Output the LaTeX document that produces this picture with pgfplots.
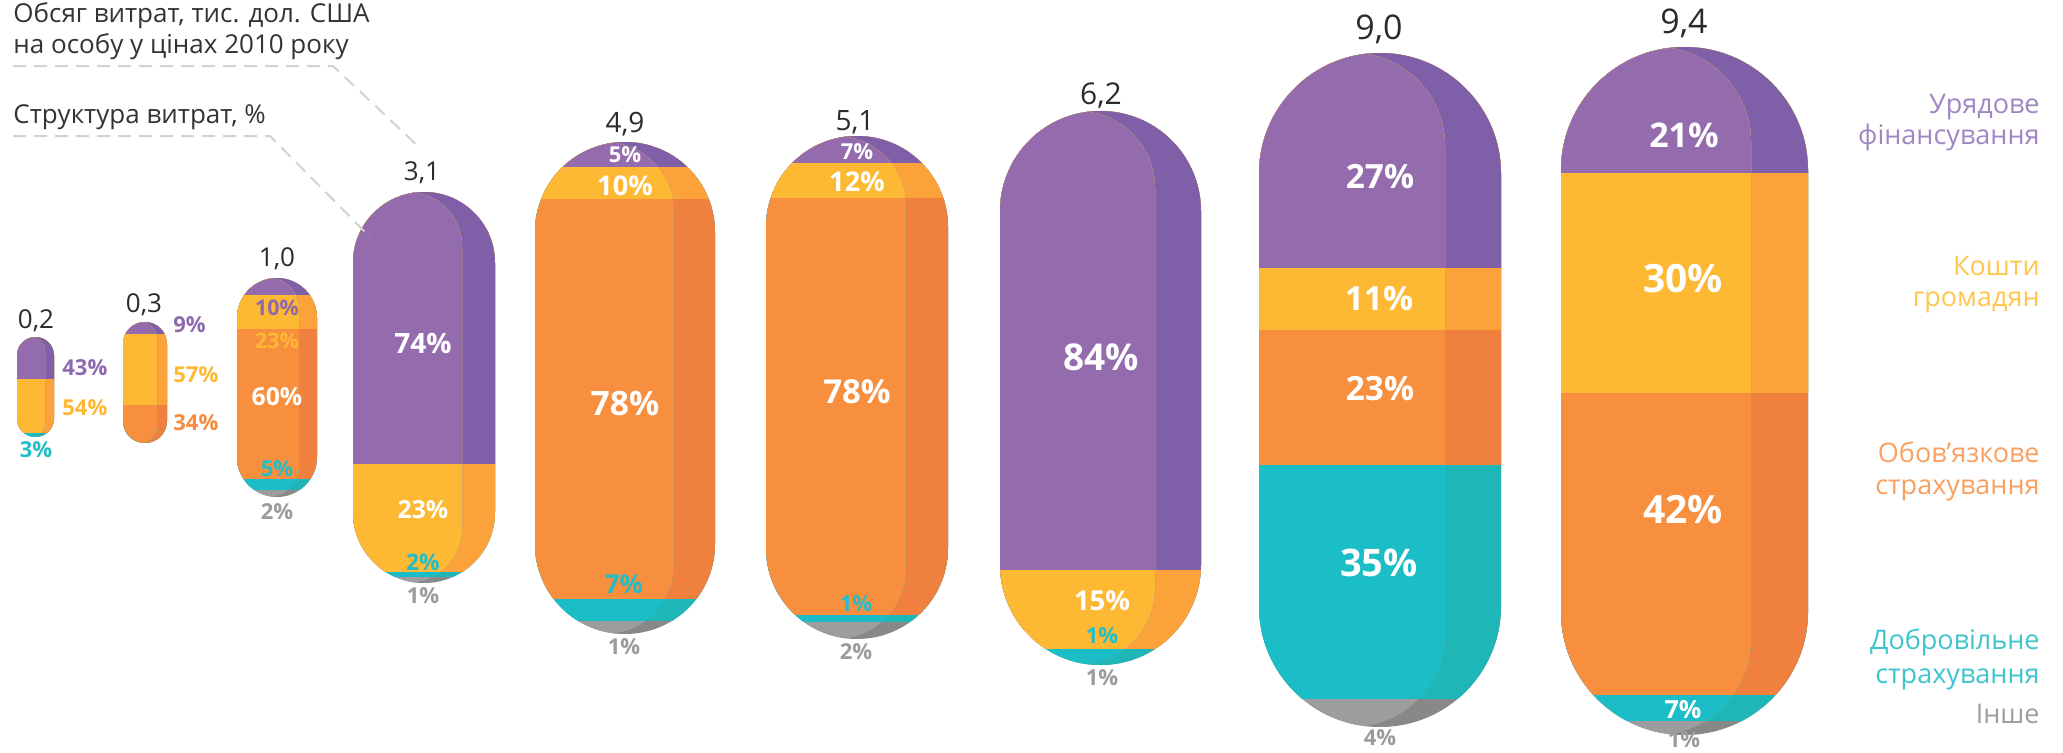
\documentclass[border=0pt]{standalone}
\usepackage{pgfplots}
\pgfplotsset{compat=1.18}
\usepackage{fontspec}
\setmainfont{Open Sans}

\definecolor{pL}{HTML}{946BAD}\definecolor{pD}{HTML}{7F60A8}
\definecolor{yL}{HTML}{FDB933}\definecolor{yD}{HTML}{FBA23A}
\definecolor{oL}{HTML}{F78F3F}\definecolor{oD}{HTML}{F0803E}
\definecolor{tL}{HTML}{1BBDC6}\definecolor{tD}{HTML}{1EB6B6}
\definecolor{gL}{HTML}{9D9D9D}\definecolor{gD}{HTML}{888888}
\definecolor{pT}{HTML}{8E69AD}\definecolor{yT}{HTML}{FDB933}
\definecolor{oT}{HTML}{F58B3E}\definecolor{tT}{HTML}{22BEC8}
\definecolor{gT}{HTML}{9B9B9B}\definecolor{vT}{HTML}{2B2B2B}
\definecolor{lgP}{HTML}{A086C2}\definecolor{lgY}{HTML}{FFC64C}
\definecolor{lgO}{HTML}{F9A060}\definecolor{lgT}{HTML}{3DC4CD}
\definecolor{lgG}{HTML}{9E9E9E}\definecolor{dashC}{HTML}{D2D2D2}

\pgfplotsset{pb/.style={ybar, bar width=600, bar shift=0pt, draw=none, fill=#1}}
\tikzset{
  pct/.style={font=\bfseries\fontsize{#1}{#1}\selectfont, inner sep=0pt},
  val/.style={font=\fontsize{#1}{#1}\selectfont, inner sep=0pt, text=vT},
  lg/.style={font=\fontsize{13.5}{14}\selectfont, inner sep=0pt, anchor=base east},
  tl/.style={font=\fontsize{13}{14}\selectfont, inner sep=0pt, anchor=base west, text=black!80},
}

% #1 left, #2 right, #3 right edge of lighter part, #4 top, #5 bottom,
% #6 bottom of government, #7 households, #8 compulsory, #9 voluntary
\newcommand{\pill}[9]{%
  \begin{scope}
    \clip[rounded corners=(#2-#1)*0.2495pt] (axis cs:#1,#4) rectangle (axis cs:#2,#5);
    \addplot[pb=gD] coordinates {(#1,#5)};
    \addplot[pb=tD] coordinates {(#1,#9)};
    \addplot[pb=oD] coordinates {(#1,#8)};
    \addplot[pb=yD] coordinates {(#1,#7)};
    \addplot[pb=pD] coordinates {(#1,#6)};
    \begin{scope}
      \clip[rounded corners=(#3-#1)*0.2495pt] (axis cs:#1,#4) rectangle (axis cs:#3,#5);
      \addplot[pb=gL] coordinates {(#1,#5)};
      \addplot[pb=tL] coordinates {(#1,#9)};
      \addplot[pb=oL] coordinates {(#1,#8)};
      \addplot[pb=yL] coordinates {(#1,#7)};
      \addplot[pb=pL] coordinates {(#1,#6)};
    \end{scope}
  \end{scope}}

\begin{document}
\begin{tikzpicture}
\begin{axis}[width=1031.5pt, height=376pt, scale only axis,
  xmin=0, xmax=2063, ymin=0, ymax=752, y dir=reverse,
  hide axis, clip=false]
\path (axis cs:0,0) rectangle (axis cs:2063,752);

% pills: left, right, light-right, top, bottom, band bottoms
\pill{17}{54}{45}{337}{437}{379}{433}{433}{437}
\pill{123}{167}{157}{322}{443}{334}{405}{443}{443}
\pill{237}{317}{299}{278}{497}{295}{329}{479}{490}
\pill{353}{495}{462}{192}{583}{464}{572}{572}{577}
\pill{535}{715}{674}{142}{634}{167}{199}{599}{621}
\pill{766}{948}{906}{136}{639}{163}{198}{615}{622}
\pill{1000}{1201}{1155}{111}{665}{570}{649}{649}{665}
\pill{1259}{1501}{1445}{53}{727}{268}{330}{465}{699}
\pill{1561}{1808}{1751}{47}{735}{173}{393}{695}{721}

% annotation lines
\draw[dashC, line width=1pt, dash pattern=on 6.5pt off 4pt] (axis cs:13,66) -- (axis cs:333,66) -- (axis cs:420,148);
\draw[dashC, line width=1pt, dash pattern=on 6.5pt off 4pt] (axis cs:13,136) -- (axis cs:270,136) -- (axis cs:370,237);
\node[tl] at (axis cs:13,22) {Обсяг витрат, тис. дол. США};
\node[tl] at (axis cs:13,53) {на особу у цінах 2010 року};
\node[tl] at (axis cs:13,123) {Структура витрат, \%};

% totals
\node[val=13] at (axis cs:36,321) {0,2};
\node[val=13] at (axis cs:144,305) {0,3};
\node[val=13] at (axis cs:277,259) {1,0};
\node[val=13] at (axis cs:422,173) {3,1};
\node[val=14] at (axis cs:625,124) {4,9};
\node[val=14] at (axis cs:855,122) {5,1};
\node[val=15] at (axis cs:1101,96) {6,2};
\node[val=17] at (axis cs:1379,29) {9,0};
\node[val=17] at (axis cs:1684,23) {9,4};

% shares
\node[pct=11, text=pT, anchor=west] at (axis cs:62,368) {43\%};
\node[pct=11, text=yT, anchor=west] at (axis cs:62,408) {54\%};
\node[pct=11, text=tT] at (axis cs:36,450) {3\%};
\node[pct=11, text=pT, anchor=west] at (axis cs:173,325) {9\%};
\node[pct=11, text=yT, anchor=west] at (axis cs:173,375) {57\%};
\node[pct=11, text=oT, anchor=west] at (axis cs:173,423) {34\%};

\node[pct=10.7, text=pT] at (axis cs:277,308) {10\%};
\node[pct=10.7, text=yT] at (axis cs:277,341) {23\%};
\node[pct=12.4, text=white] at (axis cs:277,397) {60\%};
\node[pct=11, text=tT] at (axis cs:277,469) {5\%};
\node[pct=11, text=gT] at (axis cs:277,512) {2\%};

\node[pct=14, text=white] at (axis cs:423,343) {74\%};
\node[pct=12.4, text=white] at (axis cs:423,510) {23\%};
\node[pct=11.4, text=tT] at (axis cs:423,562) {2\%};
\node[pct=11, text=gT] at (axis cs:423,596) {1\%};

\node[pct=11, text=white] at (axis cs:625,155) {5\%};
\node[pct=13.6, text=white] at (axis cs:625,186) {10\%};
\node[pct=16.8, text=white] at (axis cs:625,403) {78\%};
\node[pct=13, text=tT] at (axis cs:624,584) {7\%};
\node[pct=11, text=gT] at (axis cs:624,647) {1\%};

\node[pct=11, text=white] at (axis cs:857,152) {7\%};
\node[pct=13.6, text=white] at (axis cs:857,182) {12\%};
\node[pct=16.5, text=white] at (axis cs:857,392) {78\%};
\node[pct=11, text=tT] at (axis cs:856,604) {1\%};
\node[pct=11, text=gT] at (axis cs:856,652) {2\%};

\node[pct=18.5, text=white] at (axis cs:1101,357) {84\%};
\node[pct=13.7, text=white] at (axis cs:1102,601) {15\%};
\node[pct=11, text=tT] at (axis cs:1102,636) {1\%};
\node[pct=11, text=gT] at (axis cs:1102,678) {1\%};

\node[pct=16.7, text=white] at (axis cs:1380,177) {27\%};
\node[pct=16.7, text=white] at (axis cs:1379,299) {11\%};
\node[pct=16.7, text=white] at (axis cs:1380,389) {23\%};
\node[pct=19, text=white] at (axis cs:1379,563) {35\%};
\node[pct=11, text=gT] at (axis cs:1380,738) {4\%};

\node[pct=17, text=white] at (axis cs:1684,135) {21\%};
\node[pct=19.5, text=white] at (axis cs:1683,279) {30\%};
\node[pct=19.5, text=white] at (axis cs:1683,510) {42\%};
\node[pct=12.5, text=white] at (axis cs:1683,710) {7\%};
\node[pct=11, text=gT] at (axis cs:1684,740) {1\%};

% legend
\node[lg, text=lgP] at (axis cs:2040,113) {Урядове};
\node[lg, text=lgP] at (axis cs:2040,144) {фінансування};
\node[lg, text=lgY] at (axis cs:2040,275) {Кошти};
\node[lg, text=lgY] at (axis cs:2040,306) {громадян};
\node[lg, text=lgO] at (axis cs:2040,462) {Обов’язкове};
\node[lg, text=lgO] at (axis cs:2040,494) {страхування};
\node[lg, text=lgT] at (axis cs:2040,649) {Добровільне};
\node[lg, text=lgT] at (axis cs:2040,683) {страхування};
\node[lg, text=lgG] at (axis cs:2040,723) {Інше};
\end{axis}
\end{tikzpicture}
\end{document}
